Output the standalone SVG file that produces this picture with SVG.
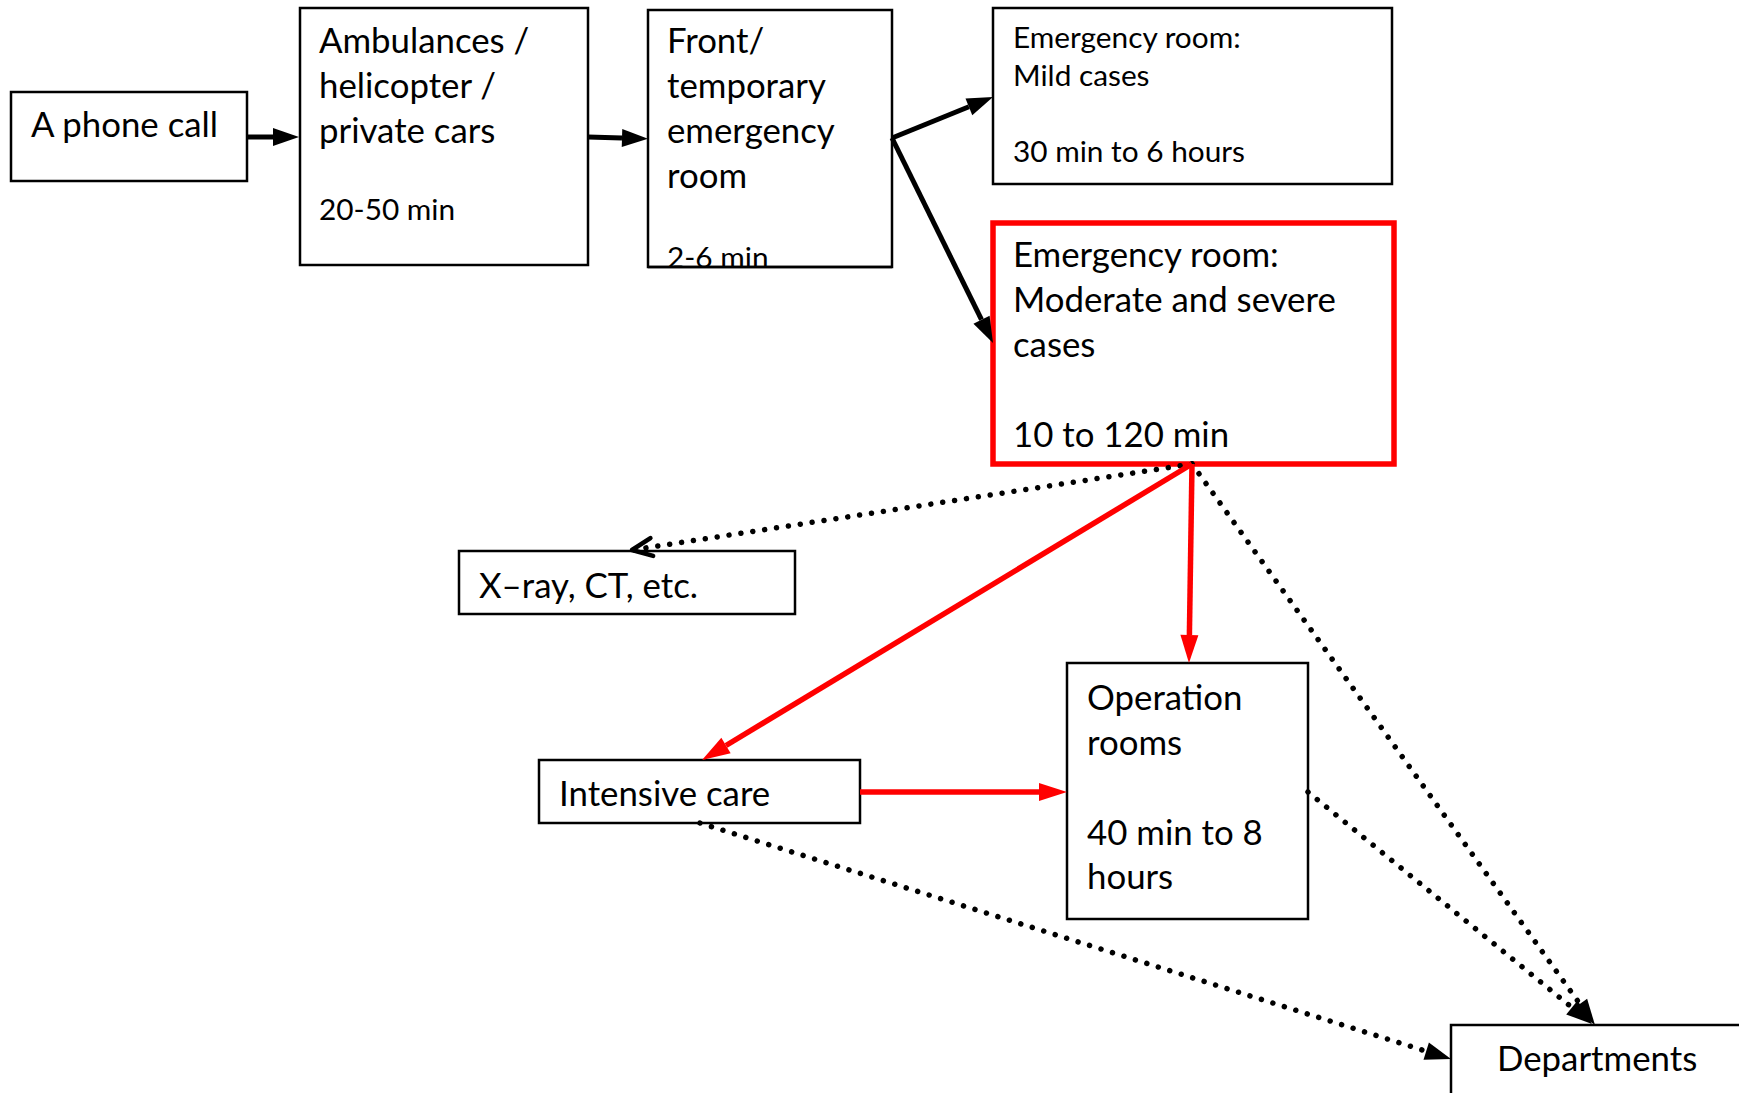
<svg xmlns="http://www.w3.org/2000/svg" width="1739" height="1093" viewBox="0 0 1739 1093">
<style>
  .box { fill: #fff; stroke: #000; stroke-width: 2.5; }
  .redbox { fill: #fff; stroke: #ff0000; stroke-width: 5.5; }
  text { font-family: Lato, "Liberation Sans", sans-serif; fill: #000; }
  .lg { font-size: 34.8px; }
  .sm { font-size: 29.8px; }
  .blk { stroke: #000; stroke-width: 5; fill: none; }
  .red { stroke: #ff0000; stroke-width: 5.5; fill: none; }
  .dot { stroke: #000; stroke-width: 5.5; fill: none; stroke-dasharray: 0.01 12; stroke-linecap: round; }
</style>
<defs>
  <marker id="ab" markerUnits="userSpaceOnUse" markerWidth="30" markerHeight="20" refX="0" refY="9" orient="auto" overflow="visible">
    <path d="M0,0 L26,9 L0,18 Z" fill="#000"/>
  </marker>
  <marker id="ar" markerUnits="userSpaceOnUse" markerWidth="30" markerHeight="20" refX="0" refY="9" orient="auto" overflow="visible">
    <path d="M0,0 L28,9 L0,18 Z" fill="#ff0000"/>
  </marker>
  <marker id="ao" markerUnits="userSpaceOnUse" markerWidth="30" markerHeight="24" refX="0" refY="0" orient="auto" overflow="visible">
    <path d="M-20,-9 L0,0 L-20,9" fill="none" stroke="#000" stroke-width="4.5" stroke-linecap="round" stroke-linejoin="round"/>
  </marker>
</defs>

<g id="phone">
  <rect class="box" x="11" y="92" width="236" height="89"/>
  <text class="lg" x="31" y="137">A phone call</text>
</g>
<g id="ambulances">
  <rect class="box" x="300" y="8" width="288" height="257"/>
  <text class="lg" x="319" y="53">Ambulances /</text>
  <text class="lg" x="319" y="98">helicopter /</text>
  <text class="lg" x="319" y="143">private cars</text>
  <text class="sm" x="319" y="220">20-50 min</text>
</g>
<g id="front">
  <rect class="box" x="648" y="10" width="244" height="257"/>
  <text class="lg" x="667" y="53">Front/</text>
  <text class="lg" x="667" y="98">temporary</text>
  <text class="lg" x="667" y="143">emergency</text>
  <text class="lg" x="667" y="188">room</text>
  <text class="sm" x="667" y="268">2-6 min</text>
  <line x1="648" y1="267" x2="892" y2="267" stroke="#000" stroke-width="2.5"/>
</g>
<g id="mild">
  <rect class="box" x="993" y="8" width="399" height="176"/>
  <text class="sm" x="1013" y="48">Emergency room:</text>
  <text class="sm" x="1013" y="86">Mild cases</text>
  <text class="sm" x="1013" y="162">30 min to 6 hours</text>
</g>
<g id="moderate">
  <rect class="redbox" x="993" y="223" width="401" height="241"/>
  <text class="lg" x="1013" y="267">Emergency room:</text>
  <text class="lg" x="1013" y="312">Moderate and severe</text>
  <text class="lg" x="1013" y="357">cases</text>
  <text class="lg" x="1013" y="447">10 to 120 min</text>
</g>
<g id="xray">
  <rect class="box" x="459" y="551" width="336" height="63"/>
  <text class="lg" x="479" y="598">X–ray, CT, etc.</text>
</g>
<g id="intensive">
  <rect class="box" x="539" y="760" width="321" height="63"/>
  <text class="lg" x="559" y="806">Intensive care</text>
</g>
<g id="operation">
  <rect class="box" x="1067" y="663" width="241" height="256"/>
  <text class="lg" x="1087" y="710">Operation</text>
  <text class="lg" x="1087" y="755">rooms</text>
  <text class="lg" x="1087" y="845">40 min to 8</text>
  <text class="lg" x="1087" y="889">hours</text>
</g>
<g id="departments">
  <rect class="box" x="1451" y="1025" width="320" height="100"/>
  <text class="lg" x="1497" y="1071">Departments</text>
</g>

<g id="connectors">
  <line class="blk" x1="248" y1="137" x2="273" y2="137" marker-end="url(#ab)"/>
  <line class="blk" x1="588" y1="137" x2="622" y2="138" marker-end="url(#ab)"/>
  <line class="blk" x1="892" y1="138" x2="968.9" y2="106.8" marker-end="url(#ab)"/>
  <line class="blk" x1="892" y1="138" x2="981.5" y2="319.7" marker-end="url(#ab)"/>
  <line class="dot" x1="1192" y1="464" x2="632" y2="550" marker-end="url(#ao)"/>
  <line class="dot" x1="1192" y1="464" x2="1579.8" y2="1003.9" marker-end="url(#ab)"/>
  <line class="dot" x1="1308" y1="792" x2="1571.9" y2="1007.5" marker-end="url(#ab)"/>
  <line class="dot" x1="700" y1="823" x2="1426.2" y2="1051.2" marker-end="url(#ab)"/>
  <line class="red" x1="1192" y1="464" x2="726" y2="745.5" marker-end="url(#ar)"/>
  <line class="red" x1="1192" y1="464" x2="1189.4" y2="635" marker-end="url(#ar)"/>
  <line class="red" x1="860" y1="792" x2="1039" y2="792" marker-end="url(#ar)"/>
</g>
</svg>
